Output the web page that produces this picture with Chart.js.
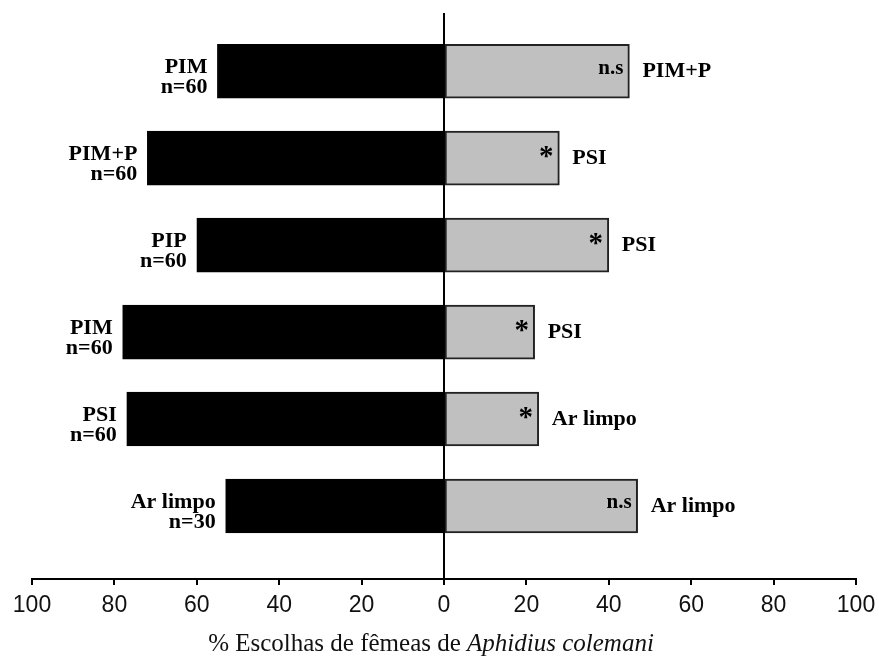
<!DOCTYPE html>
<html>
<head>
<meta charset="utf-8">
<script src="https://cdn.jsdelivr.net/npm/chart.js@4"></script>
<style>
  html, body { margin: 0; padding: 0; background: #fff; }
  #wrap { width: 879px; height: 658px; }
</style>
</head>
<body>
<div id="wrap"><canvas id="barChart" width="879" height="658"></canvas></div>
<script>
// Rows from top to bottom
const rows = [1, 2, 3, 4, 5, 6];
const leftLabels = ['PIM', 'PIM+P', 'PIP', 'PIM', 'PSI', 'Ar limpo'];
const sampleSizes = ['n=60', 'n=60', 'n=60', 'n=60', 'n=60', 'n=30'];
const rightLabels = ['PIM+P', 'PSI', 'PSI', 'PSI', 'Ar limpo', 'Ar limpo'];
const significance = ['n.s', '*', '*', '*', '*', 'n.s'];
// % of females choosing each side
const leftValues = [55, 72, 60, 78, 77, 53];
const rightValues = [45, 28, 40, 22, 23, 47];
const xTicks = [-100, -80, -60, -40, -20, 0, 20, 40, 60, 80, 100];

const serifBold = size => 'bold ' + size + 'px "Liberation Serif", "DejaVu Serif", serif';

// Draws the text next to / inside the bars and the axis title
const labelsPlugin = {
  id: 'barLabels',
  afterDatasetsDraw(chart) {
    const ctx = chart.ctx;
    const leftBars = chart.getDatasetMeta(0).data;
    const rightBars = chart.getDatasetMeta(1).data;
    ctx.save();
    ctx.fillStyle = '#000';
    rows.forEach((r, i) => {
      const lb = leftBars[i], rb = rightBars[i];
      const c = lb.y;
      // left side: treatment + n
      ctx.font = serifBold(22);
      ctx.textAlign = 'right';
      ctx.textBaseline = 'middle';
      ctx.fillText(leftLabels[i], lb.x - 10, c - 4);
      ctx.fillText(sampleSizes[i], lb.x - 10, c + 16);
      // right side: treatment
      ctx.textAlign = 'left';
      ctx.font = serifBold(22);
      ctx.fillText(rightLabels[i], rb.x + 13, c);
      // significance mark inside the grey bar
      if (significance[i] === '*') {
        ctx.font = serifBold(29);
        ctx.textAlign = 'center';
        ctx.textBaseline = 'alphabetic';
        ctx.fillText('*', rb.x - 13, c + 7);
      } else {
        ctx.font = serifBold(21);
        ctx.textAlign = 'right';
        ctx.textBaseline = 'middle';
        ctx.fillText(significance[i], rb.x - 6, c - 3);
      }
    });
    ctx.restore();
  },
  afterDraw(chart) {
    // axis title with italic species name
    const ctx = chart.ctx;
    const part1 = '% Escolhas de fêmeas de ';
    const part2 = 'Aphidius colemani';
    const f1 = '25px "Liberation Serif", serif';
    const f2 = 'italic 25px "Liberation Serif", serif';
    ctx.save();
    ctx.fillStyle = '#111';
    ctx.textBaseline = 'alphabetic';
    ctx.textAlign = 'left';
    ctx.font = f1;
    const w1 = ctx.measureText(part1).width;
    ctx.font = f2;
    const w2 = ctx.measureText(part2).width;
    const x0 = 431 - (w1 + w2) / 2;
    ctx.font = f1;
    ctx.fillText(part1, x0, 651);
    ctx.font = f2;
    ctx.fillText(part2, x0 + w1, 651);
    ctx.restore();
  }
};

var ctx = document.getElementById('barChart').getContext('2d');
var chart = new Chart(ctx, {
  type: 'bar',
  data: {
    datasets: [
      {
        label: 'left',
        data: rows.map((r, i) => ({ x: -leftValues[i], y: r })),
        backgroundColor: '#000',
        borderColor: '#000',
        borderWidth: 1,
        barThickness: 54,
        grouped: false
      },
      {
        label: 'right',
        data: rows.map((r, i) => ({ x: rightValues[i], y: r })),
        backgroundColor: '#c0c0c0',
        borderColor: '#222',
        borderWidth: 2,
        borderSkipped: false,
        barThickness: 54,
        grouped: false
      }
    ]
  },
  options: {
    indexAxis: 'y',
    responsive: false,
    animation: false,
    layout: { padding: { left: 32, right: 23, top: 13, bottom: 0 } },
    plugins: {
      legend: { display: false },
      tooltip: { enabled: false }
    },
    scales: {
      y: {
        type: 'linear',
        display: false,
        offset: false,
        reverse: true,
        min: 0.33,
        max: 6.84
      },
      x: {
        type: 'linear',
        min: -100,
        max: 100,
        afterBuildTicks: scale => { scale.ticks = xTicks.map(v => ({ value: v })); },
        afterFit: scale => {
          scale.height = 79;
          // edge labels already fit inside the layout padding
          scale.paddingLeft = 0;
          scale.paddingRight = 0;
        },
        border: { display: true, color: '#000', width: 2 },
        grid: {
          color: c => (c.tick && c.tick.value === 0 ? '#000' : 'rgba(0,0,0,0)'),
          lineWidth: 2,
          tickColor: '#000',
          tickLength: 6
        },
        ticks: {
          padding: 7,
          color: '#111',
          font: { family: '"Liberation Sans", Arial, sans-serif', size: 23 },
          callback: v => Math.abs(v)
        }
      }
    }
  },
  plugins: [labelsPlugin]
});
</script>
</body>
</html>
